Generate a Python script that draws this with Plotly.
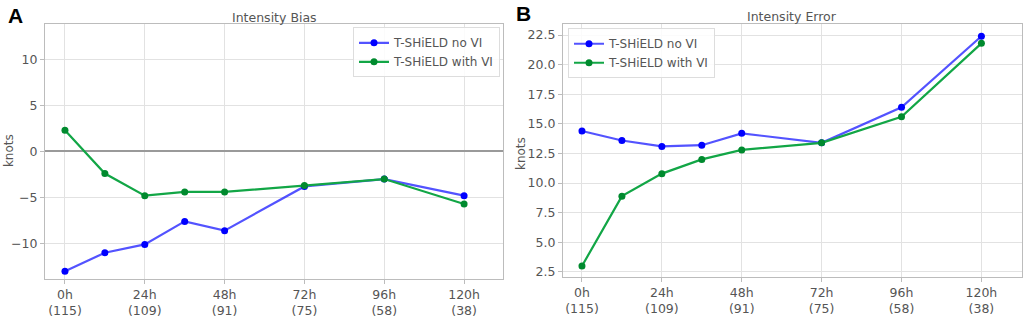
import plotly.graph_objects as go

# ---- data ----
lead_hours = [0, 12, 24, 36, 48, 72, 96, 120]
tick_hours = [0, 24, 48, 72, 96, 120]
tick_labels = ["0h<br>(115)", "24h<br>(109)", "48h<br>(91)", "72h<br>(75)", "96h<br>(58)", "120h<br>(38)"]

bias_no_vi = [-13.0, -11.0, -10.1, -7.6, -8.6, -3.8, -3.0, -4.8]
bias_with_vi = [2.3, -2.4, -4.8, -4.4, -4.4, -3.7, -3.0, -5.7]

error_no_vi = [14.4, 13.6, 13.1, 13.2, 14.2, 13.4, 16.4, 22.4]
error_with_vi = [3.0, 8.9, 10.8, 12.0, 12.8, 13.4, 15.6, 21.8]

bias_ticks = [-10, -5, 0, 5, 10]
bias_tick_text = ["\u221210", "\u22125", "0", "5", "10"]
error_ticks = [2.5, 5.0, 7.5, 10.0, 12.5, 15.0, 17.5, 20.0, 22.5]
error_tick_text = ["2.5", "5.0", "7.5", "10.0", "12.5", "15.0", "17.5", "20.0", "22.5"]

series_names = ["T-SHiELD no VI", "T-SHiELD with VI"]

# ---- style ----
FONT = "DejaVu Sans"
BLUE_LINE = "rgba(40,40,255,0.8)"
BLUE_MK = "#0000ff"
GREEN_LINE = "#12a646"
GREEN_MK = "#008a2e"
GRID = "#e2e2e2"
AXIS = "#bcbcbc"
TXT = "#555555"

fig = go.Figure()

def add(x, y, name, lc, mc, xa, ya, show):
    fig.add_trace(go.Scatter(
        x=x, y=y, name=name, mode="lines+markers",
        line=dict(color=lc, width=2.2),
        marker=dict(color=mc, size=7),
        xaxis=xa, yaxis=ya, showlegend=show,
        legend="legend" if xa == "x" else "legend2",
    ))

add(lead_hours, bias_no_vi, series_names[0], BLUE_LINE, BLUE_MK, "x", "y", True)
add(lead_hours, bias_with_vi, series_names[1], GREEN_LINE, GREEN_MK, "x", "y", True)
add(lead_hours, error_no_vi, series_names[0], BLUE_LINE, BLUE_MK, "x2", "y2", True)
add(lead_hours, error_with_vi, series_names[1], GREEN_LINE, GREEN_MK, "x2", "y2", True)

xcommon = dict(
    tickmode="array", tickvals=tick_hours, ticktext=tick_labels,
    showgrid=True, gridcolor=GRID, gridwidth=1,
    showline=True, linecolor=AXIS, linewidth=1.2, mirror=True,
    ticks="outside", ticklen=4, tickcolor=AXIS,
    tickfont=dict(family=FONT, size=12.5, color=TXT),
    zeroline=False,
)
ycommon = dict(
    tickmode="array",
    showgrid=True, gridcolor=GRID, gridwidth=1,
    showline=True, linecolor=AXIS, linewidth=1.2, mirror=True,
    ticks="outside", ticklen=4, tickcolor=AXIS,
    tickfont=dict(family=FONT, size=12.5, color=TXT),
)

def px_x(v):
    return v / 1024

def px_y(v):
    return 1 - v / 318

fig.update_layout(
    width=1024, height=318,
    margin=dict(l=0, r=0, t=0, b=0),
    paper_bgcolor="white", plot_bgcolor="white",
    font=dict(family=FONT, color=TXT),
    xaxis=dict(domain=[px_x(45), px_x(503)], range=[-6, 131.7], anchor="y", **xcommon),
    yaxis=dict(domain=[px_y(285.7), px_y(25)], range=[-13.8, 13.8], anchor="x",
               tickvals=bias_ticks, ticktext=bias_tick_text,
               zeroline=True, zerolinecolor="#9a9a9a", zerolinewidth=1.5, **ycommon),
    xaxis2=dict(domain=[px_x(563), px_x(1022)], range=[-5.7, 132.2], anchor="y2", **xcommon),
    yaxis2=dict(domain=[px_y(284.3), px_y(24.3)], range=[2.06, 23.46], anchor="x2",
                tickvals=error_ticks, ticktext=error_tick_text, zeroline=False, **ycommon),
    legend=dict(x=px_x(500), y=px_y(28), xanchor="right", yanchor="top",
                bgcolor="rgba(255,255,255,0.85)", bordercolor="#dddddd", borderwidth=1,
                font=dict(family=FONT, size=12, color=TXT), tracegroupgap=0,
                itemwidth=30),
    legend2=dict(x=px_x(568), y=px_y(29), xanchor="left", yanchor="top",
                 bgcolor="rgba(255,255,255,0.85)", bordercolor="#dddddd", borderwidth=1,
                 font=dict(family=FONT, size=12, color=TXT), tracegroupgap=0,
                 itemwidth=30),
    annotations=[
        dict(text="Intensity Bias", x=px_x(274), y=px_y(18), xref="paper", yref="paper",
             xanchor="center", yanchor="middle",
             showarrow=False, font=dict(family=FONT, size=12.5, color=TXT)),
        dict(text="Intensity Error", x=px_x(792), y=px_y(17), xref="paper", yref="paper",
             xanchor="center", yanchor="middle",
             showarrow=False, font=dict(family=FONT, size=12.5, color=TXT)),
        dict(text="<b>A</b>", x=px_x(15), y=px_y(16), xref="paper", yref="paper",
             xanchor="center", yanchor="middle",
             showarrow=False, font=dict(family="Liberation Sans", size=21, color="black")),
        dict(text="<b>B</b>", x=px_x(523), y=px_y(14), xref="paper", yref="paper",
             xanchor="center", yanchor="middle",
             showarrow=False, font=dict(family="Liberation Sans", size=21, color="black")),
        dict(text="knots", x=px_x(9), y=px_y(155), xref="paper", yref="paper",
             xanchor="center", yanchor="middle",
             showarrow=False, textangle=-90, font=dict(family=FONT, size=12, color=TXT)),
        dict(text="knots", x=px_x(521), y=px_y(158), xref="paper", yref="paper",
             xanchor="center", yanchor="middle",
             showarrow=False, textangle=-90, font=dict(family=FONT, size=12, color=TXT)),
    ],
)

fig.write_html(
    "out.html",
    config={"displayModeBar": False},
    post_script="document.body.style.margin='0';document.body.style.overflow='hidden';",
)
